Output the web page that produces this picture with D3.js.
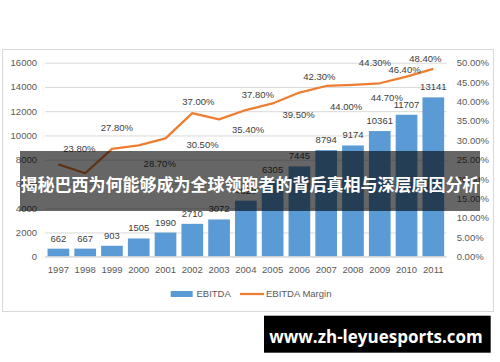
<!DOCTYPE html>
<html lang="en">
<head>
    <meta charset="UTF-8">
    <title>EBITDA chart</title>
    <script src="https://d3js.org/d3.v7.min.js"></script>
    <style>
        body { margin: 0; background: #fff; }
        svg { display: block; }
        text { font-family: "Liberation Sans", Arial, sans-serif; }
    </style>
</head>
<body>
    <div id="chart"></div>
    <script>
        const years = ['1997', '1998', '1999', '2000', '2001', '2002', '2003', '2004',
                       '2005', '2006', '2007', '2008', '2009', '2010', '2011'];
        const ebitda = [662, 667, 903, 1505, 1990, 2710, 3072, 4620,
                        6305, 7445, 8794, 9174, 10361, 11707, 13141];
        const ebitdaMargin = [23.8, 21.5, 27.8, 28.7, 30.5, 37.0, 35.4, 37.8,
                              39.5, 42.3, 44.0, 44.3, 44.7, 46.4, 48.4];
        const leftTicks = [0, 2000, 4000, 6000, 8000, 10000, 12000, 14000, 16000];
        const rightTicks = [0, 5, 10, 15, 20, 25, 30, 35, 40, 45, 50];
        const seriesNames = ['EBITDA', 'EBITDA Margin'];
        const title = '揭秘巴西为何能够成为全球领跑者的背后真相与深层原因分析';
        const site = 'www.zh-leyuesports.com';

        // hand placed label shifts (dx, dy) as in the original workbook; null = label not shown
        const marginLabelShift = [[21, -16], null, [5, -21], [21, 18], [37, 6], [6, -12], [29, 10],
                                  [12, -15], [26, 11], [20, -16], [20, 21], [22, -22], [7, 14], [-2, -7], [-8, -10]];

        const width = 500, height = 362;
        const plot = {left: 45, right: 446.7, top: 62.7, bottom: 256.7};
        const grey = '#595959', dark = '#404040';
        const blue = '#5B9BD5', orange = '#ED7D31';

        const svg = d3.select('#chart').append('svg')
            .attr('width', width)
            .attr('height', height);

        // chart frame
        svg.append('rect')
            .attr('x', 2.5).attr('y', 49.5)
            .attr('width', 491).attr('height', 262)
            .attr('fill', '#fff')
            .attr('stroke', '#D9D9D9');

        const x = d3.scaleBand().domain(years).range([plot.left, plot.right]).paddingInner(0.19).paddingOuter(0.095);
        const y = d3.scaleLinear().domain([0, 16000]).range([plot.bottom, plot.top]);
        const y2 = d3.scaleLinear().domain([0, 50]).range([plot.bottom, plot.top]);

        // grid + left axis
        const leftAxis = svg.append('g')
            .attr('transform', `translate(${plot.left},0)`)
            .call(d3.axisLeft(y).tickValues(leftTicks).tickFormat(d3.format('d'))
                .tickSize(-(plot.right - plot.left)).tickPadding(8));
        leftAxis.select('.domain').remove();
        leftAxis.selectAll('.tick line').attr('stroke', '#D9D9D9');
        leftAxis.selectAll('.tick text').attr('fill', grey).attr('font-size', 9.5)
            .style('font-family', '"Liberation Sans", Arial, sans-serif');

        // right axis
        const rightAxis = svg.append('g')
            .attr('transform', `translate(${plot.right},0)`)
            .call(d3.axisRight(y2).tickValues(rightTicks).tickSize(0).tickPadding(10)
                .tickFormat(d => d.toFixed(2) + '%'));
        rightAxis.select('.domain').remove();
        rightAxis.selectAll('.tick text').attr('fill', grey).attr('font-size', 9.5)
            .style('font-family', '"Liberation Sans", Arial, sans-serif');

        // bars
        svg.append('g').selectAll('rect')
            .data(ebitda)
            .join('rect')
            .attr('x', (d, i) => x(years[i]))
            .attr('y', d => y(d))
            .attr('width', x.bandwidth())
            .attr('height', d => y(0) - y(d))
            .attr('fill', blue);

        // baseline
        svg.append('line')
            .attr('x1', plot.left).attr('x2', plot.right)
            .attr('y1', y(0)).attr('y2', y(0))
            .attr('stroke', '#D9D9D9');

        // bottom axis
        const bottomAxis = svg.append('g')
            .attr('transform', `translate(0,${plot.bottom})`)
            .call(d3.axisBottom(x).tickSize(0).tickPadding(10));
        bottomAxis.select('.domain').remove();
        bottomAxis.selectAll('.tick text').attr('fill', grey).attr('font-size', 9.5)
            .style('font-family', '"Liberation Sans", Arial, sans-serif');

        // bar labels
        svg.append('g').selectAll('text')
            .data(ebitda)
            .join('text')
            .attr('x', (d, i) => x(years[i]) + x.bandwidth() / 2)
            .attr('y', d => y(d) - 7)
            .attr('text-anchor', 'middle')
            .attr('font-size', 9.5)
            .attr('fill', dark)
            .text(d => d);

        // margin line
        const line = d3.line()
            .x((d, i) => x(years[i]) + x.bandwidth() / 2)
            .y(d => y2(d));
        svg.append('path')
            .datum(ebitdaMargin)
            .attr('d', line)
            .attr('fill', 'none')
            .attr('stroke', orange)
            .attr('stroke-width', 2.25)
            .attr('stroke-linejoin', 'round');

        const shown = ebitdaMargin.map((v, i) => ({v, i})).filter(d => marginLabelShift[d.i]);
        svg.append('g').selectAll('text')
            .data(shown)
            .join('text')
            .attr('x', d => x(years[d.i]) + x.bandwidth() / 2 + marginLabelShift[d.i][0])
            .attr('y', d => y2(d.v) + marginLabelShift[d.i][1] + 3.4)
            .attr('text-anchor', 'middle')
            .attr('font-size', 9.5)
            .attr('fill', dark)
            .text(d => d.v.toFixed(2) + '%');

        // legend
        const legend = svg.append('g').attr('transform', 'translate(0,294)');
        legend.append('rect')
            .attr('x', 170.7).attr('y', -3)
            .attr('width', 22).attr('height', 6)
            .attr('fill', blue);
        legend.append('text')
            .attr('x', 196.5).attr('y', 3.3)
            .attr('font-size', 9.5).attr('fill', grey)
            .text(seriesNames[0]);
        legend.append('line')
            .attr('x1', 240).attr('x2', 264)
            .attr('stroke', orange).attr('stroke-width', 2.25);
        legend.append('text')
            .attr('x', 266).attr('y', 3.3)
            .attr('font-size', 9.5).attr('fill', grey)
            .text(seriesNames[1]);

        // title banner over the chart
        svg.append('rect')
            .attr('x', 20).attr('y', 151)
            .attr('width', 460).attr('height', 60)
            .attr('fill', 'rgba(0,0,0,0.6)');
        svg.append('text')
            .attr('x', 250).attr('y', 191)
            .attr('text-anchor', 'middle')
            .attr('font-size', 17)
            .attr('font-weight', 'bold')
            .attr('fill', '#fff')
            .style('font-family', '"Noto Sans CJK SC", sans-serif')
            .text(title);

        // site tag
        svg.append('rect')
            .attr('x', 264).attr('y', 315.7)
            .attr('width', 226.7).attr('height', 37)
            .attr('fill', '#000');
        svg.append('text')
            .attr('x', 376).attr('y', 342.5)
            .attr('text-anchor', 'middle')
            .attr('font-size', 17)
            .attr('font-weight', 'bold')
            .attr('fill', '#fff')
            .style('font-family', '"Open Sans", sans-serif')
            .text(site);
    </script>
</body>
</html>
